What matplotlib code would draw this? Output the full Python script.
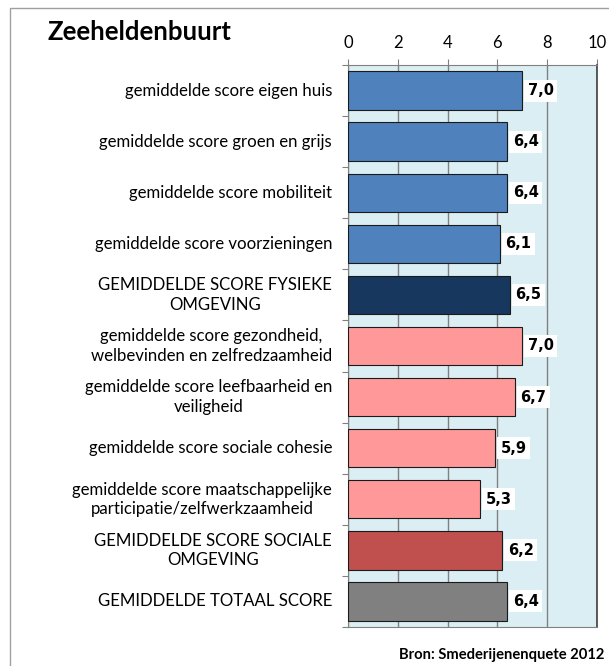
import matplotlib
matplotlib.use("Agg")
import matplotlib.pyplot as plt
from matplotlib.patches import Rectangle

# data
labels = [
    "gemiddelde score eigen huis",
    "gemiddelde score groen en grijs",
    "gemiddelde score mobiliteit",
    "gemiddelde score voorzieningen",
    "GEMIDDELDE SCORE FYSIEKE\nOMGEVING",
    "gemiddelde score gezondheid,\nwelbevinden en zelfredzaamheid",
    "gemiddelde score leefbaarheid en\nveiligheid",
    "gemiddelde score sociale cohesie",
    "gemiddelde score maatschappelijke\nparticipatie/zelfwerkzaamheid",
    "GEMIDDELDE SCORE SOCIALE\nOMGEVING",
    "GEMIDDELDE TOTAAL SCORE",
]
scores = [7.0, 6.4, 6.4, 6.1, 6.5, 7.0, 6.7, 5.9, 5.3, 6.2, 6.4]
colors = ["#4F81BD"] * 4 + ["#17375E"] + ["#FF9999"] * 4 + ["#C0504D", "#808080"]
xticks = [0, 2, 4, 6, 8, 10]

fig = plt.figure(figsize=(6.09, 6.66), dpi=100)
W, H = 609, 666

# outer frame
fig.patches.append(Rectangle((10 / W, -0.1), 1.2, 1.1 - 8 / H,
                             transform=fig.transFigure, fill=False,
                             edgecolor="#A0A0A0", lw=1))

ax = fig.add_axes([348 / W, 1 - 627 / H, (597 - 348) / W, (627 - 65) / H])
ax.set_facecolor("#DAEEF3")

n = len(scores)
ypos = list(range(n))
ax.barh(ypos, scores, height=0.75, color=colors, edgecolor="#1A1A1A", lw=0.8, zorder=3)
for y, v in zip(ypos, scores):
    ax.text(v + 0.22, y, f"{v:.1f}".replace(".", ","), va="center", ha="left",
            fontsize=10.5, fontweight="bold", family="DejaVu Sans", zorder=4,
            bbox=dict(facecolor="white", edgecolor="none", pad=2.5))

ax.set_xlim(0, 10)
ax.set_ylim(n - 0.5, -0.5)
ax.set_xticks(xticks)
ax.xaxis.tick_top()
ax.tick_params(axis="x", length=4, color="#808080", labelsize=12, pad=6)
for t in ax.get_xticklabels():
    t.set_family("Lato")
ax.set_yticks([i - 0.5 for i in range(n + 1)])
ax.set_yticklabels([])
ax.tick_params(axis="y", length=4, color="#808080")
for y, lab in zip(ypos, labels):
    ax.annotate(lab, xy=(0, y), xytext=(-11.5, 0), textcoords="offset points",
                ha="right", va="center", fontsize=12.1,
                family="Lato", multialignment="center", linespacing=1.25)

ax.grid(axis="x", color="#808080", lw=1, zorder=1)
for s in ["left", "top"]:
    ax.spines[s].set_color("#808080")
ax.spines["right"].set_color("#404040")
ax.spines["right"].set_linewidth(1.2)
ax.spines["bottom"].set_color("#808080")

fig.text(48 / W, 1 - 32 / H, "Zeeheldenbuurt", fontsize=18.5, fontweight="bold",
         family="Lato", va="center", ha="left")
fig.text(604 / W, 1 - 655 / H, "Bron: Smederijenenquete 2012", fontsize=10.6,
         fontweight="bold", family="Lato", va="center", ha="right")

fig.savefig("out.png", dpi=100)
